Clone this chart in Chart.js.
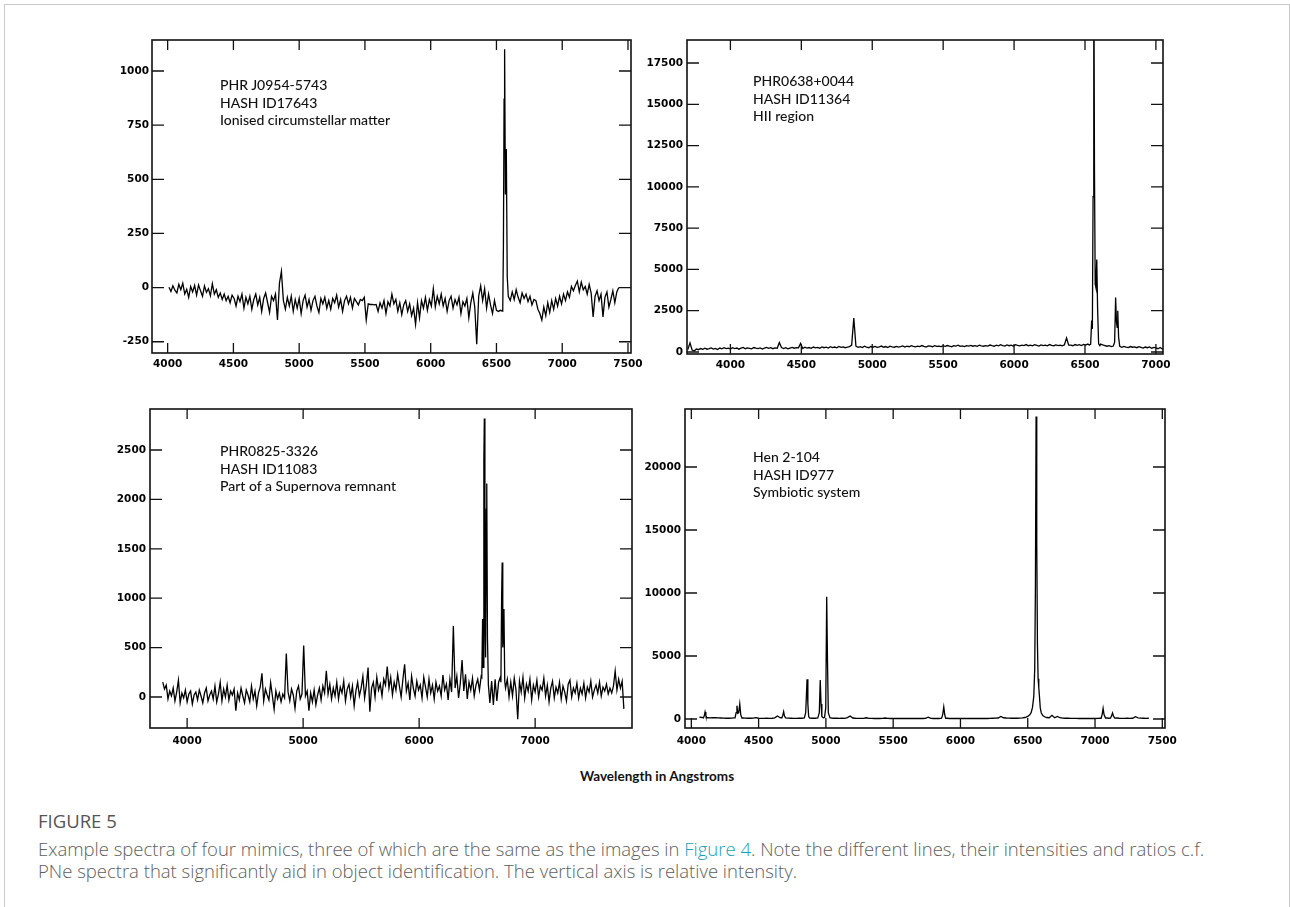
<!DOCTYPE html>
<html>
<head>
<meta charset="utf-8">
<title>Figure 5 - spectra of four mimics</title>
<script src="https://cdn.jsdelivr.net/npm/chart.js@4.4.1/dist/chart.umd.min.js"></script>
<style>
  html, body { margin: 0; padding: 0; background: #fff; overflow: hidden; }
  #page { position: relative; width: 1290px; height: 907px; }
  .frame { position: absolute; left: 4px; top: 4px; width: 1286px; height: 1000px;
           box-sizing: border-box; border: 1px solid #c9c9c9; }
  canvas { position: absolute; }
  .note { position: absolute; font-family: Lato, sans-serif; font-weight: 500; font-size: 14px;
          line-height: 17.5px; color: #111; white-space: nowrap; }
  .xtitle { position: absolute; left: 557px; top: 768px; width: 200px; text-align: center;
            font-family: Lato, sans-serif; font-weight: 700; font-size: 13.5px;
            line-height: 16px; color: #111; white-space: nowrap; }
  .figlabel { position: absolute; left: 38px; top: 811px; font-family: "Open Sans", sans-serif;
              font-size: 18.5px; line-height: 20px; color: #555; white-space: nowrap; }
  .caption { position: absolute; left: 38px; top: 838px; font-family: "Open Sans", sans-serif;
             font-weight: 300; font-size: 18.5px; line-height: 22px; color: #5e5e5e; white-space: nowrap; }
  .caption a { color: #1aa0b8; text-decoration: none; }
</style>
</head>
<body>
<div id="page">
  <div class="frame"></div>
  <canvas id="spec1"></canvas>
  <canvas id="spec2"></canvas>
  <canvas id="spec3"></canvas>
  <canvas id="spec4"></canvas>

  <div class="note" style="left:220px; top:76px;">PHR J0954-5743<br>HASH ID17643<br>Ionised circumstellar matter</div>
  <div class="note" style="left:753px; top:72px;">PHR0638+0044<br>HASH ID11364<br>HII region</div>
  <div class="note" style="left:220px; top:442px;">PHR0825-3326<br>HASH ID11083<br>Part of a Supernova remnant</div>
  <div class="note" style="left:753px; top:448px;">Hen 2-104<br>HASH ID977<br>Symbiotic system</div>

  <div class="xtitle">Wavelength in Angstroms</div>
  <div class="figlabel">FIGURE 5</div>
  <div class="caption">Example spectra of four mimics, three of which are the same as the images in <a>Figure 4</a>. Note the different lines, their intensities and ratios c.f.<br>PNe spectra that significantly aid in object identification. The vertical axis is relative intensity.</div>
</div>

<script>
// ---- PHR J0954-5743 : continuum sampled every 15 A from 4010 A
const p1Start = 4010, p1Step = 15;
const p1Flux = [
  2, -18, 8, -12, -25, 15, -10, 20, -30, -8, -45, 5, -20, 10, -35, 12, -15, -40, 8, -22,
  -5, -38, 18, -30, -10, -45, -25, -55, -30, -60, -40, -70, -35, -50, -85, -40, -65, -30, -95, -45,
  -75, -40, -100, -55, -30, -80, -45, -110, -50, -25, -70, -115, -40, -60, -30, -150, 20, 75, -60, -100,
  -45, -85, -40, -110, -55, -95, -50, -120, -60, -35, -90, -55, -105, -60, -40, -85, -115, -50, -75, -45,
  -95, -60, -100, -50, -70, -35, -90, -55, -110, -60, -40, -75, -45, -95, -50, -65, -80, -55, -60, -45,
  -150, -75, -78, -78, -80, -78, -110, -70, -95, -60, -120, -65, -85, -30, -75, -55, -110, -70, -125, -80,
  -60, -110, -75, -130, -95, -170, -70, -140, -60, -95, -45, -105, -55, -85, -5, -90, -40, -75, -30, -85,
  -50, -110, -60, -40, -95, -55, -80, -45, -120, -65, -85, -50, -140, -70, -25, -90, -262, -40, 8, -60,
  -5, -95, -30, -80, -120, -60, -105, -110, -105, -108, 1100, 640, -30, -60, -20, -55, -10, -45, -70, -25,
  -50, -30, -65, -40, -80, -55, -60, -100, -120, -150, -90, -130, -70, -115, -60, -100, -50, -85, -40, -75,
  -30, -60, -20, -45, 5, -15, 10, 30, -20, 25, -10, 5, -30, 15, -25, -135, -40, -15, -60, -30,
  -135, -45, -20, -90, -55, -15, -70, -20, 0
];
const p1Lines = [
  [[6548, -100], [6553, 200], [6558, 870], [6562, 1100], [6568, 430], [6575, 640], [6582, 50], [6590, -40]]
];

// ---- PHR0638+0044 : every 15 A from 3700 A
const p2Start = 3700, p2Step = 15;
const p2Flux = [
  150, 550, 120, 60, 180, 140, 210, 160, 230, 170, 200, 250, 180, 220, 150, 240, 190, 260, 210, 230,
  180, 260, 210, 240, 170, 230, 280, 200, 250, 220, 190, 270, 230, 210, 250, 180, 240, 280, 220, 260,
  200, 250, 230, 580, 270, 210, 260, 190, 240, 280, 230, 260, 250, 520, 210, 290, 240, 270, 220, 300,
  250, 280, 230, 310, 260, 290, 240, 320, 270, 300, 250, 340, 280, 310, 260, 290, 330, 420, 2050, 350,
  280, 320, 270, 350, 300, 260, 330, 290, 340, 280, 310, 360, 290, 330, 270, 350, 310, 290, 340, 300,
  330, 370, 300, 350, 320, 380, 340, 310, 360, 330, 390, 340, 300, 370, 350, 320, 380, 340, 360, 330,
  370, 340, 390, 350, 320, 380, 360, 410, 340, 370, 330, 390, 360, 400, 350, 380, 340, 410, 370, 350,
  390, 360, 420, 380, 350, 410, 370, 440, 390, 360, 430, 380, 410, 350, 440, 400, 370, 420, 390, 450,
  380, 420, 370, 440, 400, 360, 430, 390, 410, 370, 450, 400, 380, 430, 390, 420, 370, 440, 850, 420,
  420, 380, 450, 400, 440, 390, 460, 420, 480, 440, 450, 480, 500, 450, 480, 430, 390, 350, 380, 330,
  350, 300, 360, 320, 280, 340, 300, 270, 330, 290, 310, 260, 320, 280, 240, 300, 260, 310, 230, 280,
  250, 200, 270, 180, 240
];
const p2Lines = [
  [[6530, 430], [6540, 470], [6547, 1900], [6552, 1400], [6557, 9400], [6562, 25000], [6567, 10800],
   [6572, 4100], [6577, 3900], [6583, 5600], [6589, 2600], [6596, 500], [6605, 380]],
  [[6700, 360], [6709, 600], [6716, 3300], [6722, 1800], [6727, 1500], [6731, 2500], [6737, 900], [6745, 340]]
];

// ---- PHR0825-3326 : every 15 A from 3790 A
const p3Start = 3790, p3Step = 15;
const p3Flux = [
  150, 80, 120, -20, 60, 10, 90, -40, 50, 170, -60, 40, -10, 70, -50, 30, 60, -70, 20, 50,
  -30, 70, 10, -60, 40, 90, -40, 20, 60, -20, 110, -50, 30, 150, -40, 80, 0, 120, -30, 60,
  20, 80, -140, 40, -30, 90, 10, -60, 70, 20, -50, 110, -20, 60, -90, 40, 100, 240, -40, 80,
  20, -30, 145, 10, -125, 60, -20, 40, -50, 30, -10, 440, 50, -40, 80, 20, -115, 60, 110, -20,
  30, 520, 10, 60, -138, 40, -50, 70, -80, 20, 90, -30, 110, 40, 266, 30, 130, -20, 90, 10,
  150, -20, 100, 40, 160, -40, 80, 130, 0, 110, -90, 60, 150, 10, 90, 210, -10, 120, 297, -148,
  90, 150, 0, 200, 70, 130, 10, 180, 120, 307, 90, 200, 20, 150, 70, 230, 110, 0, 180, 330,
  60, 140, -30, 210, 90, 10, 160, 70, 120, -10, 199, 100, 0, 180, 40, 120, -20, 150, 60, 110,
  10, 223, 70, 130, -30, 180, 50, 718, 90, 210, -10, 140, 374, 60, 230, -20, 150, 70, 190, 10,
  120, 180, 70, 210, 790, 2820, 2160, 130, -60, 160, -80, 180, -40, 150, 200, 1360, 890, 90, 180, 0,
  150, 10, 190, 70, -226, 160, 50, 200, -10, 130, 60, 180, -30, 120, 50, 170, 0, 110, 70, 190,
  10, 120, -50, 90, 160, -10, 100, 40, 150, -20, 110, 50, -40, 130, 172, 0, 90, 40, 140, -10,
  90, 30, 140, -10, 100, 50, 160, 0, 70, 120, 40, 150, 10, 100, 60, 130, 30, 90, 40, 110,
  263, 70, 180, 90, 160, -120
];
const p3Lines = [
  [[6540, 200], [6547, 790], [6552, 300], [6558, 2400], [6562, 2820], [6567, 800], [6573, 400],
   [6579, 1900], [6583, 2160], [6589, 600], [6597, 120]],
  [[6705, 150], [6711, 1000], [6716, 1360], [6721, 500], [6726, 600], [6731, 890], [6738, 160]]
];

// ---- Hen 2-104 : every 20 A from 4060 A
const p4Start = 4060, p4Step = 20;
const p4Flux = [
  150, 120, 90, 100, 90, 110, 100, 90, 80, 70, 60, 60, 70, 90, 100, 100, 80, 70, 60, 60,
  70, 110, 60, 50, 50, 60, 50, 60, 90, 240, 100, 580, 120, 70, 60, 50, 50, 60, 60, 80,
  3150, 70, 60, 60, 200, 3100, 150, 9700, 200, 80, 60, 60, 50, 60, 50, 110, 240, 80, 60, 50,
  50, 50, 100, 50, 50, 40, 50, 40, 50, 80, 50, 40, 50, 40, 50, 40, 40, 50, 40, 40,
  40, 50, 40, 40, 50, 150, 50, 40, 50, 40, 60, 950, 60, 40, 40, 50, 40, 40, 40, 40,
  40, 40, 40, 40, 40, 40, 40, 40, 50, 60, 70, 80, 200, 100, 80, 70, 60, 60, 60, 70,
  90, 120, 200, 400, 1500, 24000, 2500, 500, 200, 120, 100, 290, 100, 210, 100, 70, 60, 60, 50, 50,
  50, 40, 50, 40, 40, 50, 40, 40, 50, 60, 850, 100, 60, 50, 480, 80, 60, 50, 50, 60,
  50, 60, 185, 90, 70, 60, 50, 60
];
const p4Lines = [
  [[4090, 90], [4097, 300], [4102, 560], [4108, 250], [4116, 90]],
  [[4325, 90], [4333, 500], [4339, 1060], [4345, 450], [4352, 500], [4360, 1190], [4367, 350], [4376, 80]],
  [[4672, 80], [4680, 300], [4686, 580], [4692, 250], [4700, 90]],
  [[4840, 80], [4850, 500], [4860, 3150], [4866, 1200], [4872, 200], [4880, 70]],
  [[4940, 90], [4951, 500], [4958, 3100], [4964, 1200], [4970, 200], [4980, 100]],
  [[4990, 120], [4999, 900], [5006, 9700], [5012, 4500], [5018, 500], [5030, 100]],
  [[5860, 60], [5868, 350], [5876, 950], [5883, 350], [5890, 60]],
  [[6500, 200], [6515, 330], [6525, 500], [6535, 900], [6545, 1800], [6552, 4000], [6557, 10500],
   [6562, 24000], [6567, 14000], [6572, 6000], [6577, 3200], [6582, 2500], [6587, 1800], [6593, 900],
   [6600, 500], [6612, 280], [6625, 180]],
  [[7045, 60], [7053, 350], [7060, 850], [7067, 350], [7078, 70]],
  [[7115, 70], [7123, 250], [7130, 480], [7137, 220], [7147, 70]]
];

// axis ranges
const p1X = [3881, 7523], p1Y = [-302, 1143];
const p2X = [3694, 7050], p2Y = [-121, 18893];
const p3X = [3680, 7835], p3Y = [-314, 2915];
const p4X = [3953, 7520], p4Y = [-714, 24603];

// tick labels
const p1XTicks = [4000, 4500, 5000, 5500, 6000, 6500, 7000, 7500];
const p1YTicks = [-250, 0, 250, 500, 750, 1000];
const p2XTicks = [4000, 4500, 5000, 5500, 6000, 6500, 7000];
const p2YTicks = [0, 2500, 5000, 7500, 10000, 12500, 15000, 17500];
const p3XTicks = [4000, 5000, 6000, 7000];
const p3YTicks = [0, 500, 1000, 1500, 2000, 2500];
const p4XTicks = [4000, 4500, 5000, 5500, 6000, 6500, 7000, 7500];
const p4YTicks = [0, 5000, 10000, 15000, 20000];

// plot boxes on the page
const layout = {
  spec1: { l: 152, t: 40, r: 631, b: 353, labPadY: 3, labPadX: 5 },
  spec2: { l: 687, t: 40, r: 1163, b: 354, labPadY: 4, labPadX: 5 },
  spec3: { l: 150, t: 409, r: 632, b: 728, labPadY: 4, labPadX: 7 },
  spec4: { l: 685, t: 409, r: 1165, b: 728, labPadY: 4, labPadX: 7 }
};
const YW = 56, XH = 28, PL = 4, PT = 12, PR = 28, PB = 4;

function buildSeries(start, step, flux, lineGroups) {
  let pts = flux.map((v, i) => ({ x: start + i * step, y: v }));
  lineGroups.forEach(g => {
    const lo = g[0][0], hi = g[g.length - 1][0];
    pts = pts.filter(p => p.x < lo || p.x > hi);
    g.forEach(([x, y]) => pts.push({ x: x, y: y }));
  });
  return pts.sort((a, b) => a.x - b.x);
}

// box round the plot with inward ticks on all four sides
const frameTicks = {
  id: 'frameTicks',
  afterDatasetsDraw(chart) {
    const { ctx, chartArea: a } = chart;
    const xs = chart.scales.x, ys = chart.scales.y;
    ctx.save();
    ctx.strokeStyle = '#111';
    ctx.lineWidth = 1.3;
    ctx.beginPath();
    xs.ticks.forEach(t => {
      const px = xs.getPixelForValue(t.value);
      ctx.moveTo(px, a.top); ctx.lineTo(px, a.top + 10);
      ctx.moveTo(px, a.bottom); ctx.lineTo(px, a.bottom - 10);
    });
    ys.ticks.forEach(t => {
      const py = ys.getPixelForValue(t.value);
      ctx.moveTo(a.left, py); ctx.lineTo(a.left + 12, py);
      ctx.moveTo(a.right, py); ctx.lineTo(a.right - 12, py);
    });
    ctx.stroke();
    ctx.lineWidth = 1.6;
    ctx.strokeRect(a.left, a.top, a.right - a.left, a.bottom - a.top);
    ctx.restore();
  }
};

const tickFont = { family: 'DejaVu Sans', size: 10.5, weight: 'bold' };

function drawSpectrum(id, pts, xr, yr, xTicks, yTicks) {
  const box = layout[id];
  const canvas = document.getElementById(id);
  canvas.width = box.r - box.l + YW + PL + PR;
  canvas.height = box.b - box.t + PT + XH + PB;
  canvas.style.left = (box.l - YW - PL) + 'px';
  canvas.style.top = (box.t - PT) + 'px';

  new Chart(canvas, {
    type: 'line',
    data: {
      datasets: [{
        data: pts,
        borderColor: '#000',
        borderWidth: 1.3,
        pointRadius: 0,
        tension: 0,
        fill: false
      }]
    },
    options: {
      responsive: false,
      animation: false,
      events: [],
      parsing: false,
      layout: { padding: { left: PL, top: PT, right: PR, bottom: PB } },
      plugins: { legend: { display: false }, tooltip: { enabled: false } },
      scales: {
        x: {
          type: 'linear',
          min: xr[0], max: xr[1],
          grid: { display: false, drawTicks: false },
          border: { display: false },
          afterBuildTicks: s => { s.ticks = xTicks.map(v => ({ value: v })); },
          ticks: {
            autoSkip: false, maxRotation: 0, minRotation: 0,
            padding: box.labPadX, color: '#000', font: tickFont,
            callback: v => String(v)
          },
          afterFit: s => { s.height = XH; }
        },
        y: {
          type: 'linear',
          min: yr[0], max: yr[1],
          grid: { display: false, drawTicks: false },
          border: { display: false },
          afterBuildTicks: s => { s.ticks = yTicks.map(v => ({ value: v })); },
          ticks: {
            autoSkip: false,
            padding: box.labPadY, color: '#000', font: tickFont,
            callback: v => String(v)
          },
          afterFit: s => { s.width = YW; }
        }
      }
    },
    plugins: [frameTicks]
  });
}

drawSpectrum('spec1', buildSeries(p1Start, p1Step, p1Flux, p1Lines), p1X, p1Y, p1XTicks, p1YTicks);
drawSpectrum('spec2', buildSeries(p2Start, p2Step, p2Flux, p2Lines), p2X, p2Y, p2XTicks, p2YTicks);
drawSpectrum('spec3', buildSeries(p3Start, p3Step, p3Flux, p3Lines), p3X, p3Y, p3XTicks, p3YTicks);
drawSpectrum('spec4', buildSeries(p4Start, p4Step, p4Flux, p4Lines), p4X, p4Y, p4XTicks, p4YTicks);
</script>
</body>
</html>
